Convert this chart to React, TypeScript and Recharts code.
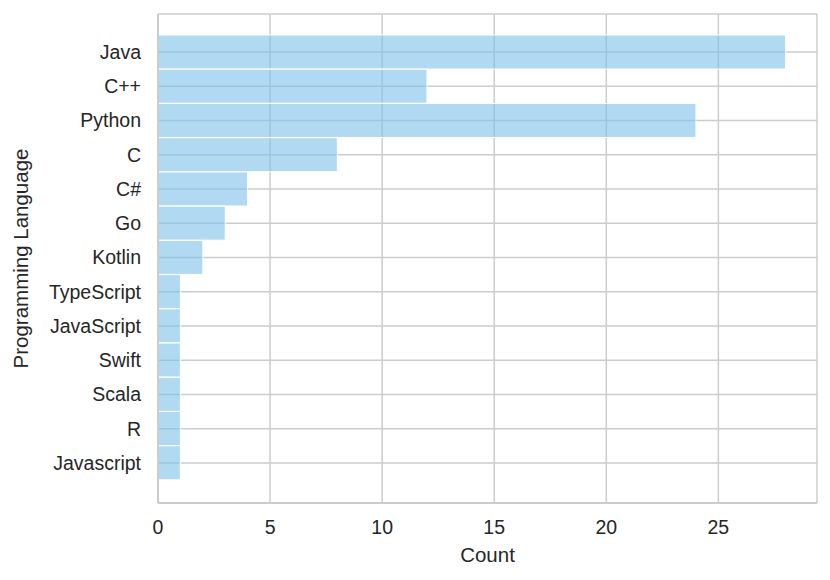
import { BarChart, Bar, XAxis, YAxis, CartesianGrid } from 'recharts'

const languages = ['Java', 'C++', 'Python', 'C', 'C#', 'Go', 'Kotlin', 'TypeScript', 'JavaScript', 'Swift', 'Scala', 'R', 'Javascript']
const counts = [28, 12, 24, 8, 4, 3, 2, 1, 1, 1, 1, 1, 1]
const xTicks = [0, 5, 10, 15, 20, 25]

const data = languages.map((name, i) => ({ name, count: counts[i] }))

const FONT = '"Liberation Sans", Arial, sans-serif'
const TEXT = '#262626'
const GRID = '#cccccc'
const frame = { stroke: GRID, strokeWidth: 2 }

export default function App() {
  return (
    <div style={{ width: 830, height: 580, fontFamily: FONT }}>
      <style>{`body { margin: 0; }`}</style>
      <BarChart
        width={830}
        height={580}
        data={data}
        layout="vertical"
        margin={{ top: 14, right: 13, bottom: 0, left: 0 }}
        barCategoryGap={0}
      >
        <CartesianGrid stroke={GRID} strokeWidth={1.5} />
        <XAxis
          type="number"
          dataKey="count"
          domain={[0, 29.4]}
          ticks={xTicks}
          height={77}
          axisLine={frame}
          tickLine={false}
          tickSize={0}
          tickMargin={17}
          tick={{ fill: TEXT, fontSize: 19.5, fontFamily: FONT }}
          label={{ value: 'Count', position: 'insideBottom', offset: 18, fill: TEXT, fontSize: 20.5, fontFamily: FONT }}
        />
        <XAxis xAxisId="top" orientation="top" type="number" domain={[0, 29.4]} height={0} tick={false} tickLine={false} axisLine={frame} />
        <YAxis
          type="category"
          dataKey="name"
          width={158}
          padding={{ top: 21, bottom: 23 }}
          axisLine={frame}
          tickLine={false}
          tickSize={0}
          tickMargin={17}
          interval={0}
          tick={{ fill: TEXT, fontSize: 19.5, fontFamily: FONT }}
          label={{
            value: 'Programming Language',
            angle: -90,
            position: 'insideLeft',
            offset: 21,
            fill: TEXT,
            fontSize: 20.5,
            fontFamily: FONT,
            style: { textAnchor: 'middle' },
          }}
        />
        <YAxis yAxisId="right" orientation="right" type="category" dataKey="name" width={0} tick={false} tickLine={false} axisLine={frame} />
        <Bar dataKey="count" fill="#7fc0ea" fillOpacity={0.6} stroke="#ffffff" strokeWidth={1} isAnimationActive={false} />
      </BarChart>
    </div>
  )
}
